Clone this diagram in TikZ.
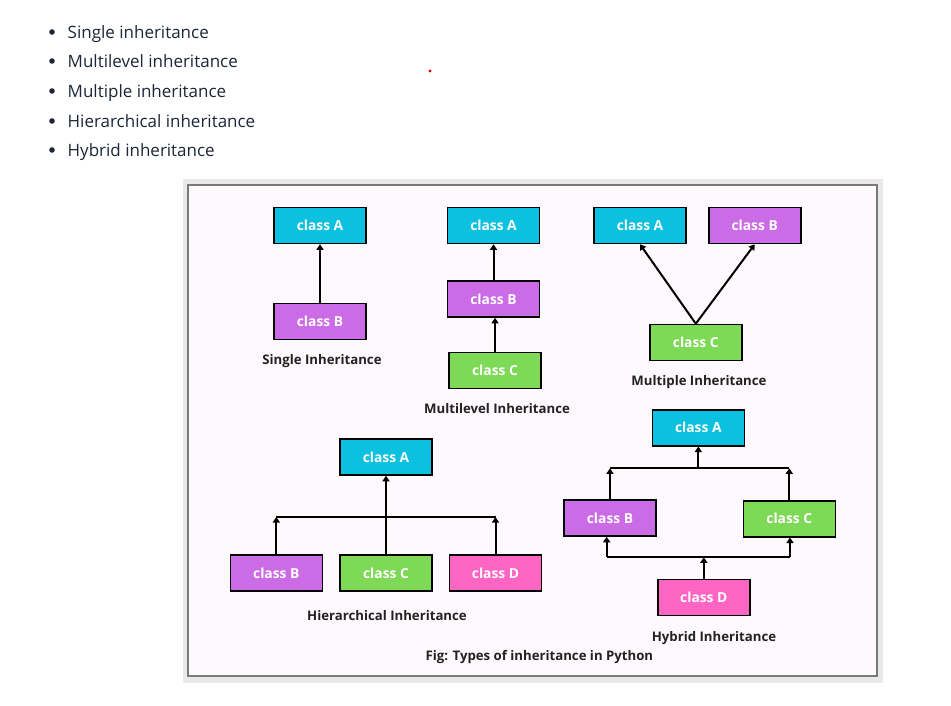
\documentclass[tikz,border=0pt]{standalone}
\usepackage{fontspec}
\setmainfont{Open Sans}
\usetikzlibrary{arrows.meta}
\definecolor{cyanA}{HTML}{0CC0DF}
\definecolor{purpB}{HTML}{CB6CE6}
\definecolor{greenC}{HTML}{7ED957}
\definecolor{pinkD}{HTML}{FF66C4}
\definecolor{outerbg}{HTML}{E9E9EB}
\definecolor{innerbg}{HTML}{FDF9FD}
\definecolor{framecol}{HTML}{7A7A7A}
\definecolor{bullettext}{HTML}{1C2636}
\definecolor{labeltext}{HTML}{222222}
\tikzset{
  cls/.style={draw=black, line width=1.6pt, minimum width=92pt, minimum height=36pt,
    inner sep=0pt, text=white, font=\fontsize{13.8}{16}\selectfont\bfseries},
  cA/.style={cls, fill=cyanA},
  cB/.style={cls, fill=purpB},
  cC/.style={cls, fill=greenC},
  cD/.style={cls, fill=pinkD},
  lbl/.style={text=labeltext, font=\fontsize{13.2}{15}\selectfont\bfseries, inner sep=0pt,
    text height=9.5pt, text depth=0.5pt},
  bul/.style={text=bullettext, font=\fontsize{17}{20}\selectfont, anchor=base west, inner sep=0pt},
  conn/.style={line width=2pt, -{Triangle[length=5.5pt,width=7pt]}},
  bar/.style={line width=2pt},
}
\begin{document}
\begin{tikzpicture}[x=1pt,y=-1pt]
\useasboundingbox (0,0) rectangle (951,705);
% bullet list
\foreach \yy/\tt [count=\i] in {32/Single inheritance, 61/Multilevel inheritance, 91/Multiple inheritance, 121/Hierarchical inheritance, 150/Hybrid inheritance}{
  \fill[bullettext] (52,\yy) circle (2.8pt);
  \node[bul] (bul\i) at (67.5,\yy+6) {\tt};
}
\fill[red!85!black] (430,71) circle (1.6pt);
% frame
\fill[outerbg] (183,179) rectangle (883,683);
\filldraw[fill=innerbg, draw=framecol, line width=1.5pt] (188,185) rectangle (877,676);

% Single
\node[cA] (sA) at (320,225.5) {class A};
\node[cB] (sB) at (320,321.5) {class B};
\draw[conn] (sB.north) -- (sA.south);
\node[lbl] (sL) at (322,360) {Single Inheritance};

% Multilevel
\node[cA] (mA) at (493.5,225.5) {class A};
\node[cB] (mB) at (493.5,299) {class B};
\node[cC] (mC) at (495,370.5) {class C};
\draw[conn] (mB.north) -- (mA.south);
\draw[conn] (mC.north) -- (mC.north |- mB.south);
\node[lbl] (mL) at (497,409) {Multilevel Inheritance};

% Multiple
\node[cA] (pA) at (640,225.5) {class A};
\node[cB] (pB) at (754.7,225.5) {class B};
\node[cC] (pC) at (695.8,342.5) {class C};
\draw[conn] (pC.north) -- (pA.south);
\draw[conn] (pC.north) -- (pB.south);
\node[lbl] (pL) at (699,381) {Multiple Inheritance};

% Hierarchical
\node[cA] (hA) at (386,457) {class A};
\node[cB] (hB) at (276.3,573) {class B};
\node[cC] (hC) at (386,573) {class C};
\node[cD] (hD) at (495.5,573) {class D};
\coordinate (hbarL) at (276.3,517);
\coordinate (hbarR) at (495.5,517);
\draw[bar] (hbarL) -- (hbarR);
\draw[conn] (hC.north) -- (hA.south);
\draw[conn] (hB.north) -- (hbarL);
\draw[conn] (hD.north) -- (hbarR);
\node[lbl] (hL) at (387,615.7) {Hierarchical Inheritance};

% Hybrid
\node[cA] (yA) at (698.3,427.7) {class A};
\node[cB] (yB) at (610,518) {class B};
\node[cC] (yC) at (789.3,518.7) {class C};
\node[cD] (yD) at (703.8,597.5) {class D};
\coordinate (yup) at (698.3,468.3);
\coordinate (yupL) at (610,468.3);
\coordinate (yupR) at (789.3,468.3);
\coordinate (ylo) at (703.8,557.3);
\coordinate (yloL) at (606.7,557.3);
\coordinate (yloR) at (790,557.3);
\draw[bar] (yupL) -- (yupR);
\draw[bar] (yloL) -- (yloR);
\draw[conn] (yup) -- (yA.south);
\draw[conn] (yB.north) -- (yupL);
\draw[conn] (yC.north) -- (yupR);
\draw[conn] (yloL) -- (yloL |- yB.south);
\draw[conn] (yloR) -- (yloR |- yC.south);
\draw[conn] (yD.north) -- (ylo);
\node[lbl] (yL) at (714,636.7) {Hybrid Inheritance};

% caption
\node[lbl] (cap) at (539.4,656) {Fig: Types of inheritance in Python};
\end{tikzpicture}
\end{document}
